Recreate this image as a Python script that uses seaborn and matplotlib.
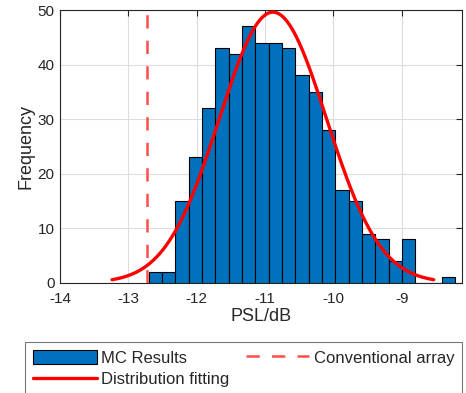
import numpy as np
import pandas as pd
import matplotlib
matplotlib.use("Agg")
import matplotlib.pyplot as plt
import seaborn as sns
from matplotlib.patches import Patch
from matplotlib.lines import Line2D

# ---- data ----
bin_start = -12.705
bin_width = 0.195
counts = [2, 2, 15, 23, 32, 43, 42, 47, 44, 44, 43, 38, 35, 28, 17, 15, 9, 8, 4, 8, 0, 0, 1]
fit_mu = -10.886
fit_sigma = 0.784
conventional_psl = -12.73
x_ticks = [-14, -13, -12, -11, -10, -9]
y_ticks = [0, 10, 20, 30, 40, 50]
labels = ["MC Results", "Distribution fitting", "Conventional array"]

edges = [bin_start + bin_width * i for i in range(len(counts) + 1)]
centers = [(edges[i] + edges[i + 1]) / 2 for i in range(len(counts))]
df = pd.DataFrame({"psl": centers, "count": counts})

sns.set_style("white")
plt.rcParams["font.family"] = ["Liberation Sans", "DejaVu Sans"]

BLUE = "#0072BD"
RED = "#FF0000"
LRED = "#FF4D4D"
DASH = (0, (5.3, 4.9))

fig = plt.figure(figsize=(4.66, 3.93), dpi=100)
ax = fig.add_axes([60 / 466, 1 - 282.7 / 393, 402 / 466, 272.7 / 393])

sns.histplot(data=df, x="psl", weights="count", bins=edges, ax=ax,
             color=BLUE, alpha=1.0, edgecolor="black", linewidth=0.8)

# fitted normal curve over mu +/- 3 sigma
xf = np.linspace(fit_mu - 3 * fit_sigma, fit_mu + 3 * fit_sigma, 300)
yf = sum(counts) * bin_width / (fit_sigma * np.sqrt(2 * np.pi)) * np.exp(-0.5 * ((xf - fit_mu) / fit_sigma) ** 2)
sns.lineplot(x=xf, y=yf, ax=ax, color=RED, linewidth=2.4, zorder=5)

ax.axvline(conventional_psl, color=LRED, linewidth=1.8, linestyle=DASH, zorder=5)

ax.set_xlim(-14, -8.12)
ax.set_ylim(0, 50)
ax.set_xticks(x_ticks)
ax.set_xticklabels([str(t) for t in x_ticks])
ax.set_yticks(y_ticks)
ax.grid(True, color="#dcdcdc", linewidth=0.8)
ax.set_axisbelow(True)
for s in ax.spines.values():
    s.set_visible(True)
    s.set_color("#262626")
    s.set_linewidth(0.8)
ax.tick_params(direction="in", top=True, right=True, length=4, width=0.8,
               labelsize=11, colors="#262626")
ax.tick_params(axis="x", pad=7)
ax.tick_params(axis="y", pad=4)
ax.set_xlabel("PSL/dB", fontsize=13, color="#262626")
ax.set_ylabel("Frequency", fontsize=13, color="#262626")
ax.xaxis.set_label_coords(0.5, (282.7 - 308) / 272.7)
ax.yaxis.set_label_coords((34 - 60) / 402, 0.5)

handles = [Patch(facecolor=BLUE, edgecolor="black", linewidth=0.8),
           Line2D([], [], color=RED, linewidth=2.4),
           Line2D([], [], color=LRED, linewidth=1.8, linestyle=DASH)]
leg = fig.legend(handles, labels, ncol=2, loc="upper left",
                 bbox_to_anchor=(25 / 466, 1 - 342.3 / 393, 437.5 / 466, 0.001),
                 mode="expand", fontsize=12, frameon=True, fancybox=False,
                 edgecolor="#555555", handlelength=3.8, handleheight=0.86,
                 handletextpad=0.28, labelspacing=0.36, borderpad=0.5,
                 borderaxespad=0, columnspacing=0.8)
leg.get_frame().set_linewidth(0.8)

fig.savefig("out.png", dpi=100)
